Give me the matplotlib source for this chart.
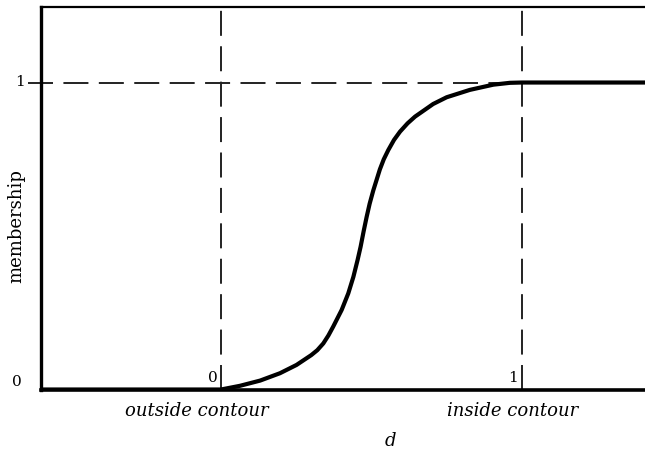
import matplotlib
matplotlib.use("Agg")
import matplotlib.pyplot as plt

# membership curve
d_values = [-0.60, 0.000, 0.063, 0.130, 0.196, 0.251, 0.300, 0.320, 0.340, 0.357,
            0.373, 0.401, 0.423, 0.440, 0.454, 0.464, 0.474, 0.484, 0.494, 0.506,
            0.528, 0.541, 0.556, 0.575, 0.595, 0.620, 0.645, 0.705, 0.750, 0.827,
            0.905, 0.960, 1.000, 1.41]
membership = [0.0, 0.000, 0.012, 0.029, 0.053, 0.080, 0.112, 0.128, 0.150, 0.176,
              0.205, 0.259, 0.313, 0.367, 0.422, 0.465, 0.515, 0.562, 0.605, 0.648,
              0.717, 0.750, 0.780, 0.813, 0.840, 0.867, 0.889, 0.930, 0.952, 0.976,
              0.993, 0.999, 1.000, 1.0]
x_marks = [0, 1]
x_mark_labels = ["0", "1"]
y_mark_labels = ["0", "1"]
region_labels = ["outside contour", "inside contour"]
region_pos = [-0.08, 0.97]

plt.rcParams['lines.scale_dashes'] = False
plt.rcParams['font.family'] = ['DejaVu Serif']

W, H = 645, 455
fig = plt.figure(figsize=(W / 100, H / 100), dpi=100)
ax = fig.add_axes([41 / W, 65.5 / H, 604 / W, 382.5 / H])
ax.set_xlim(-0.598, 1.409)
ax.set_ylim(0, 1.246)

dash = (0, (18, 7.5))
for xm in x_marks:
    ax.axvline(xm, color="#222222", lw=1.4, linestyle=dash, zorder=1)
ax.plot([-0.64, 1.0], [1, 1], color="#222222", lw=1.4, linestyle=dash,
        clip_on=False, zorder=1)

ax.plot(d_values, membership, color="black", lw=3.0, solid_capstyle="round",
        solid_joinstyle="round", antialiased=True, zorder=3)

ax.spines["right"].set_visible(False)
ax.spines["left"].set_linewidth(2.4)
ax.spines["bottom"].set_linewidth(2.6)
ax.spines["top"].set_linewidth(1.6)
ax.set_xticks([])
ax.set_yticks([])

for xm, lab in zip(x_marks, x_mark_labels):
    ax.text(xm - 0.012, 0.015, lab, ha="right", va="bottom", fontsize=11)

fig.text(17 / W, 1 - 382 / H, y_mark_labels[0], ha="center", va="center", fontsize=11)
fig.text(20 / W, 1 - 82 / H, y_mark_labels[1], ha="center", va="center", fontsize=11)

for xp, lab in zip(region_pos, region_labels):
    ax.text(xp, -0.07, lab, ha="center", va="center", fontsize=13,
            style="italic", clip_on=False)

fig.text(390 / W, 1 - 441 / H, "d", ha="center", va="center", fontsize=13,
         style="italic")
fig.text(16 / W, 1 - 226 / H, "membership", ha="center", va="center",
         fontsize=13, rotation=90)

fig.savefig("out.png", dpi=100)
